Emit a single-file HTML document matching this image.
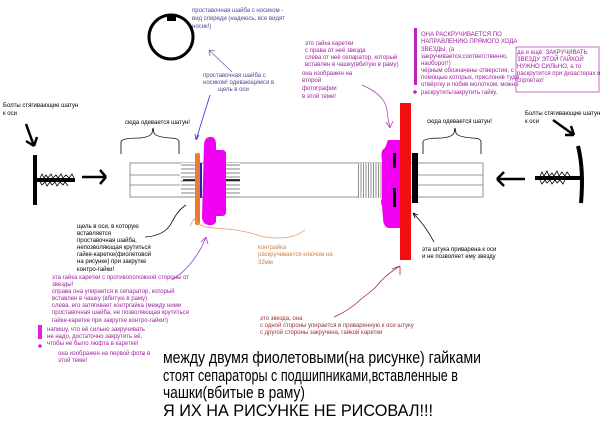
<!DOCTYPE html>
<html><head><meta charset="utf-8"><style>
html,body{margin:0;padding:0;background:#fff;width:604px;height:423px;overflow:hidden}
svg{display:block}
text{font-family:"Liberation Sans",sans-serif}
.s{font-size:6px}
</style></head><body>
<svg width="604" height="423" viewBox="0 0 604 423" xmlns="http://www.w3.org/2000/svg">
<defs>
<pattern id="th" width="2" height="4" patternUnits="userSpaceOnUse"><rect width="2" height="4" fill="#fff"/><line x1="0" y1="1" x2="2" y2="1" stroke="#666" stroke-width="0.8"/></pattern>
<pattern id="tv" width="2.5" height="4" patternUnits="userSpaceOnUse"><rect width="2.5" height="4" fill="#fff"/><line x1="1" y1="0" x2="1" y2="4" stroke="#777" stroke-width="0.8"/></pattern>
</defs>
<circle cx="171" cy="37" r="22" fill="none" stroke="#000" stroke-width="3"/>
<rect x="167" y="15" width="9" height="6" fill="#000"/>
<g class="s" fill="#4a4a9a">
<text x="192" y="12">проставочная шайба с носиком -</text>
<text x="192" y="20">вид спереди (надеюсь, все видят</text>
<text x="192" y="28">носик!)</text>
<text x="203" y="77">проставочная шайба с</text>
<text x="203" y="84">носиком!  одевающимся в</text>
<text x="218" y="91">щель в оси</text>
</g>
<path d="M232 72 L209 50 M209 50 l6 1 M209 50 l1 6" stroke="#6a6ab0" fill="none" stroke-width="0.8"/>
<path d="M210 95 L196 140 M196 140 l-1 -6 M196 140 l3 -5" stroke="#3030c0" fill="none" stroke-width="0.8"/>
<g class="s" fill="#000">
<text x="3" y="107">Болты стягивающие шатун</text>
<text x="3" y="115">к оси</text>
<text x="125" y="124">сюда одевается шатун!</text>
<text x="427" y="123">сюда одевается шатун!</text>
<text x="525" y="115">Болты стягивающие шатун</text>
<text x="525" y="123">к оси</text>
<text x="422" y="251">эта штука приварена к оси</text>
<text x="422" y="258">и не позволяет ему звезду</text>
</g>
<path d="M121 154 L121 142 Q121 138 140 138 Q150 137 152 133 L153 128 L154 133 Q156 137 170 138 Q179 138 179 142 L179 154" fill="none" stroke="#000" stroke-width="0.8"/>
<path d="M423 154 L423 142 Q423 138 442 138 Q452 137 454 133 L455 128 L456 133 Q458 137 472 138 Q481 138 481 142 L481 154" fill="none" stroke="#000" stroke-width="0.8"/>
<rect x="33" y="155" width="4" height="50" fill="#000"/>
<rect x="35" y="178" width="40" height="4" fill="#000"/>
<path d="M40 178 l2 -4 l2 4 l2 -3 l2 3 l3 -4 l2 4 l3 -3 l2 3 l3 -4 l2 4 l3 -3 l3 3 l3 -4 l2 4 M40 182 l2 3 l3 -3 l2 4 l3 -4 l2 3 l3 -3 l2 4 l3 -4 l3 3 l2 -3 l3 4" stroke="#000" fill="none" stroke-width="0.8"/>
<path d="M26 124 L34 146 M34 146 l-8 -5 M34 146 l3 -9" stroke="#000" fill="none" stroke-width="2.5"/>
<path d="M82 177 L106 177 M106 177 l-6 -7 M106 177 l-6 7" stroke="#000" fill="none" stroke-width="2.5"/>
<path d="M578 146 Q584 170 581 203" stroke="#000" fill="none" stroke-width="4"/>
<rect x="535" y="176" width="45" height="4" fill="#000"/>
<path d="M540 176 l2 -4 l2 4 l3 -5 l2 5 l3 -3 l2 3 l3 -5 l2 5 l3 -4 l3 4 l2 -4 l3 4 M540 180 l2 4 l3 -4 l2 3 l3 -3 l2 4 l3 -4 l2 3 l3 -3 l3 4 l2 -4" stroke="#000" fill="none" stroke-width="0.8"/>
<path d="M553 120 L574 135 M574 135 l-3 -9 M574 135 l-9 0" stroke="#000" fill="none" stroke-width="2.5"/>
<path d="M525 179 L497 179 M497 179 l7 -7 M497 179 l7 7" stroke="#000" fill="none" stroke-width="2.5"/>
<rect x="130" y="163" width="353" height="34" fill="#fff" stroke="#777" stroke-width="0.8"/>
<line x1="130" y1="175" x2="180" y2="175" stroke="#777" stroke-width="0.8"/>
<line x1="130" y1="185" x2="180" y2="185" stroke="#777" stroke-width="0.8"/>
<line x1="418" y1="175" x2="483" y2="175" stroke="#777" stroke-width="0.8"/>
<line x1="418" y1="185" x2="483" y2="185" stroke="#777" stroke-width="0.8"/>
<rect x="181" y="163" width="15" height="35" fill="url(#th)"/>
<rect x="226" y="163" width="14" height="35" fill="url(#th)"/>
<line x1="183" y1="180" x2="196" y2="180" stroke="#000" stroke-width="1.5"/>
<line x1="226" y1="180" x2="240" y2="180" stroke="#000" stroke-width="1.5"/>
<rect x="358" y="163" width="24" height="35" fill="url(#tv)"/>
<rect x="195" y="153" width="5" height="72" fill="#f07830" rx="2"/>
<rect x="200" y="163" width="2" height="35" fill="#2020d0"/>
<path d="M204 144 Q205 136 212 137 Q216 138 216 145 L216 150 L222 150 Q226 150 226 154 L226 212 Q226 216 222 216 L216 216 L216 222 Q214 226 208 225 Q203 224 202 218 Z" fill="#f000f0"/>
<path d="M388 140 L400 140 L400 228 L388 228 Q383 226 383 218 L382 206 Q380 202 382 198 L382 160 Q380 150 385 148 Z" fill="#f000f0"/>
<rect x="393" y="153" width="3" height="15" fill="#000"/>
<rect x="393" y="188" width="3" height="19" fill="#000"/>
<rect x="400" y="103" width="11" height="157" fill="#f01010"/>
<rect x="412" y="153" width="6" height="50" fill="#000"/>
<g class="s" fill="#a020a0">
<text x="305" y="45">это гайка каретки</text>
<text x="305" y="52">с права от неё звезда</text>
<text x="305" y="59">слева от неё сепаратор, который</text>
<text x="305" y="66">вставлен в чашку(вбитую в раму)</text>
<text x="302" y="75">она изображен на</text>
<text x="302" y="82">второй</text>
<text x="302" y="90">фотографии</text>
<text x="302" y="98">в этой теме!</text>
</g>
<path d="M362 85 Q385 95 387 110 Q388 120 390 128 M390 128 l-4 -6 M390 128 l3 -7" stroke="#b040b0" fill="none" stroke-width="0.8"/>
<rect x="414" y="28" width="3" height="57" fill="#c020c0"/>
<circle cx="415" cy="92" r="1.8" fill="#c020c0"/>
<g class="s" fill="#a020a0">
<text x="421" y="36">ОНА РАСКРУЧИВАЕТСЯ ПО</text>
<text x="421" y="43">НАПРАВЛЕНИЮ ПРЯМОГО ХОДА</text>
<text x="421" y="51">ЗВЕЗДЫ, (а</text>
<text x="421" y="58">закручивается,соответственно,</text>
<text x="421" y="65">наоборот!)</text>
<text x="421" y="72">чёрным обозначены отверстия, с</text>
<text x="421" y="79">помощью которых, приcлонив туда</text>
<text x="421" y="86">отвёртку и побив молотком, можно</text>
<text x="421" y="94">раскрутить/закрутить гайку.</text>
</g>
<rect x="516" y="47" width="83" height="45" fill="none" stroke="#b050b0" stroke-width="0.8"/>
<g class="s" fill="#a020a0">
<text x="517" y="54">да и ещё: ЗАКРУЧИВАТЬ</text>
<text x="517" y="61">ЗВЕЗДУ ЭТОЙ ГАЙКОЙ</text>
<text x="517" y="68">НУЖНО СИЛЬНО, а то</text>
<text x="517" y="75">раскрутится при дизастерах и</text>
<text x="517" y="82">спроетах!</text>
</g>
<path d="M145 237 Q165 236 172 222 Q178 210 186 205" stroke="#000" fill="none" stroke-width="0.8"/>
<g class="s" fill="#000">
<text x="77" y="228">щель в оси, в которую</text>
<text x="77" y="235">вставляется</text>
<text x="77" y="242">проставочная шайба,</text>
<text x="77" y="249">непозволяющая крутиться</text>
<text x="77" y="256">гайке-каретке(фиолетовой</text>
<text x="77" y="263">на рисунке) при закрутке</text>
<text x="77" y="271">контро-гайки!</text>
</g>
<g class="s" fill="#a020a0">
<text x="52" y="279">эта гайка каретки с противоположной стороны от</text>
<text x="52" y="286">звезды!</text>
<text x="52" y="293">справа она упирается в сепаратор, который</text>
<text x="52" y="300">вставлен в чашку (вбитую в раму)</text>
<text x="52" y="307">слева, его затягивает контргайка (между ними</text>
<text x="52" y="314">проставочная шайба, не позволяющая крутиться</text>
<text x="52" y="322">гайке-каретке при закрутке контро-гайки!)</text>
<text x="47" y="331">напишу, что её сильно закручивать</text>
<text x="47" y="338">не надо, достаточно закрутить её,</text>
<text x="47" y="345">чтобы не было люфта в каретке!</text>
<text x="58" y="355">она изображен на первой фото в</text>
<text x="58" y="362">этой теме!</text>
</g>
<rect x="38" y="325" width="4" height="14" fill="#e020e0"/>
<circle cx="40" cy="346" r="1.8" fill="#e020e0"/>
<path d="M172 280 Q195 265 206 237 M206 237 l-5 5 M206 237 l2 7" stroke="#a040c0" fill="none" stroke-width="0.8"/>
<path d="M190 226 Q192 222 194 219 Q200 228 215 228 Q245 230 260 236 Q290 242 305 230" stroke="#e0a070" fill="none" stroke-width="0.8"/>
<g class="s" fill="#d08040">
<text x="258" y="249">контрайка</text>
<text x="258" y="256">раскручивается ключом на</text>
<text x="258" y="264">32мм</text>
</g>
<path d="M334 317 Q350 310 360 300 L375 288 Q385 275 400 266 M400 266 l-8 3 M400 266 l0 9" stroke="#a03040" fill="none" stroke-width="0.8"/>
<path d="M434 242 Q425 225 413 213 M413 213 l2 5 M413 213 l5 2" stroke="#000" fill="none" stroke-width="0.8"/>
<g class="s" fill="#a03030">
<text x="260" y="320">это звезда, она</text>
<text x="260" y="327">с одной стороны упирается в приваренную к оси штуку</text>
<text x="260" y="334">с другой стороны закручена, гайкой каретки</text>
</g>
<circle cx="143" cy="354" r="1" fill="#c040c0"/>
<g fill="#000" font-size="16.5">
<text x="163" y="363" textLength="318" lengthAdjust="spacingAndGlyphs">между двумя фиолетовыми(на рисунке) гайками</text>
<text x="163" y="381" textLength="295" lengthAdjust="spacingAndGlyphs">стоят сепараторы с подшипниками,вставленные в</text>
<text x="163" y="398" textLength="142" lengthAdjust="spacingAndGlyphs">чашки(вбитые в раму)</text>
<text x="163" y="416" textLength="270" lengthAdjust="spacingAndGlyphs">Я ИХ НА РИСУНКЕ НЕ РИСОВАЛ!!!</text>
</g>
</svg>
</body></html>
